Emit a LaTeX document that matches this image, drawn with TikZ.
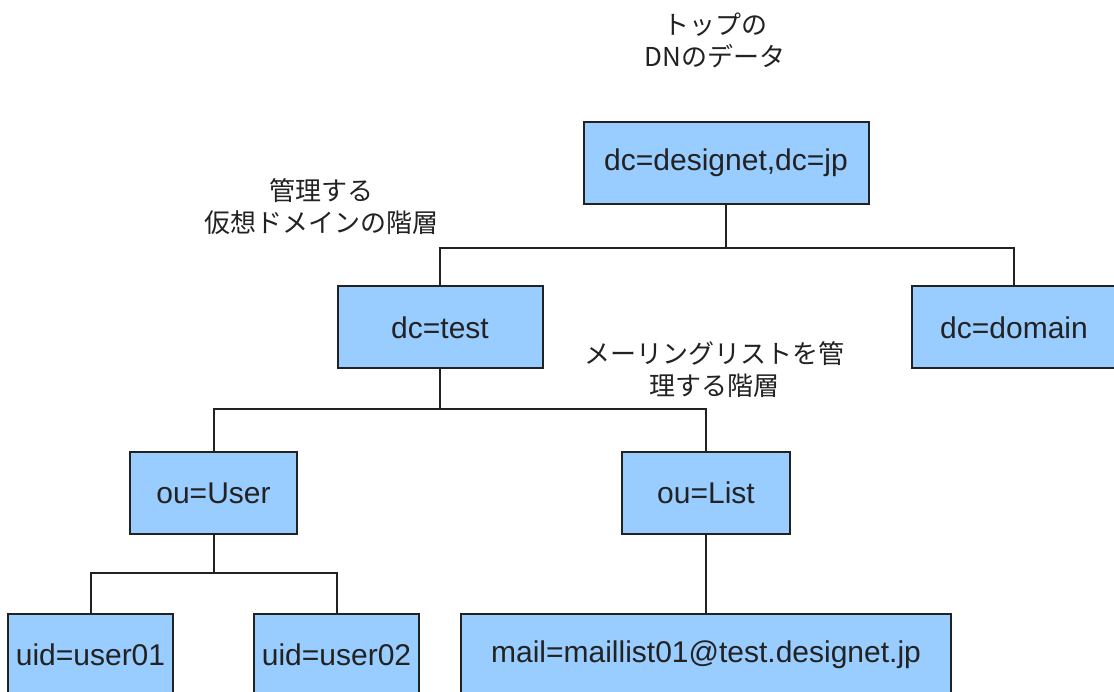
\documentclass[tikz,border=0pt]{standalone}
\usepackage{fontspec}
\setmainfont{Liberation Sans}
\newfontfamily\jp{Noto Sans CJK JP}
\definecolor{boxfill}{HTML}{99CCFF}
\definecolor{ink}{HTML}{222222}
\begin{document}
\begin{tikzpicture}[x=1pt,y=-1pt,
  entry/.style={draw=ink, line width=2pt, fill=boxfill, rectangle, inner sep=0pt,
    minimum height=82pt, text=ink, font=\fontsize{30}{34}\selectfont},
  conn/.style={draw=ink, line width=2pt},
  note/.style={align=center, text=ink, inner sep=0pt, font=\jp\fontsize{26}{32}\selectfont}]
\useasboundingbox (0,0) rectangle (1114,692);
\clip (0,0) rectangle (1114,692);
\fill[white] (0,0) rectangle (1114,692);
% nodes
\node[entry, minimum width=285pt] (top) at (726,163) {dc=designet,dc=jp};
\node[entry, minimum width=205pt] (test) at (440,327.5) {dc=test};
\node[entry, minimum width=204pt] (domain) at (1014,327.5) {dc=domain};
\node[entry, minimum width=167pt] (user) at (213.5,493) {ou=User};
\node[entry, minimum width=168pt] (list) at (706,493) {ou=List};
\node[entry, minimum width=165pt] (u1) at (90.5,655) {uid=user01};
\node[entry, minimum width=165pt] (u2) at (336.5,655) {uid=user02};
\node[entry, minimum width=490pt] (mail) at (706,655) {mail=maillist01@test.designet.jp};
% labels
\node[note] (l1) at (715,40) {トップの\\DNのデータ};
\node[note] (l2) at (321,207) {管理する\\仮想ドメインの階層};
\node[note] (l3) at (714,370) {メーリングリストを管\\理する階層};
% connectors
\coordinate (j1) at (top.south |- 0,248);
\coordinate (j2) at (test.south |- 0,409);
\coordinate (j3) at (user.south |- 0,573);
\draw[conn] (top.south) -- (j1);
\draw[conn] (test.north) |- (j1) -| (domain.north);
\draw[conn] (test.south) -- (j2);
\draw[conn] (user.north) |- (j2) -| (list.north);
\draw[conn] (user.south) -- (j3);
\draw[conn] (u1.north) |- (j3) -| (u2.north);
\draw[conn] (list.south) -- (mail.north);
\end{tikzpicture}
\end{document}
